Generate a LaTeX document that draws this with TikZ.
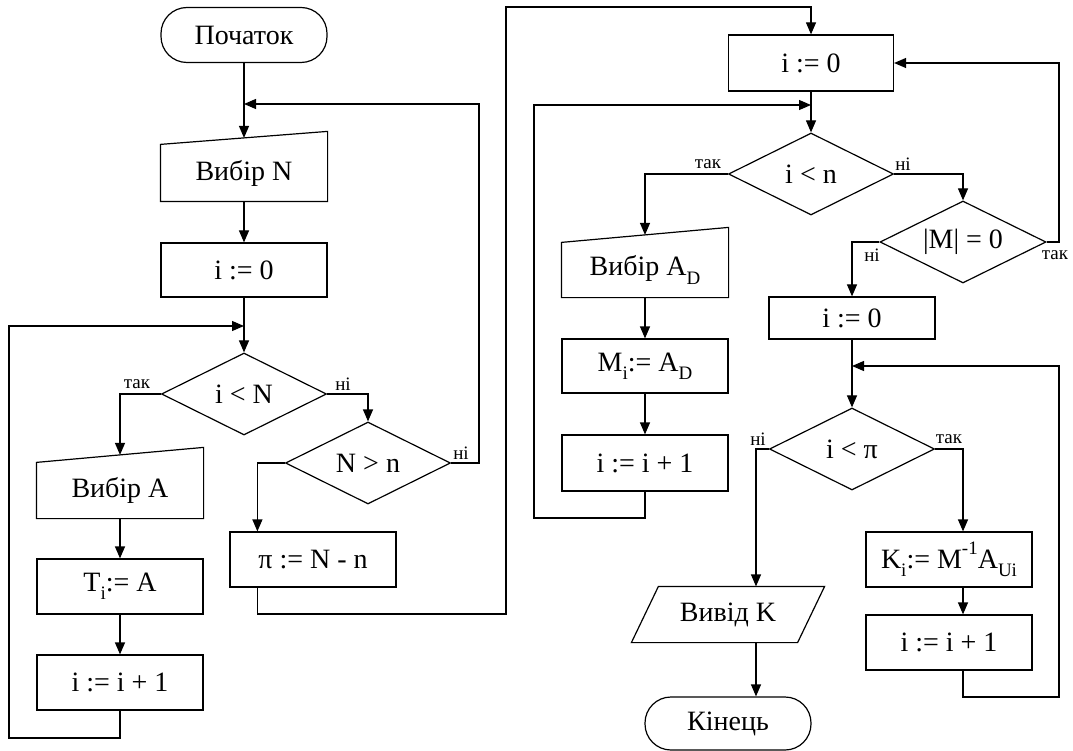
\documentclass[tikz,border=0pt]{standalone}
\usepackage{fontspec}
\setmainfont{Liberation Serif}
\usetikzlibrary{arrows.meta,shapes.geometric,calc}
\newcommand\lowidx[1]{\raisebox{-0.3em}{\fontsize{19}{19}\selectfont #1}}
\newcommand\upidx[1]{\raisebox{0.5em}{\fontsize{19}{19}\selectfont #1}}
\begin{document}
\begin{tikzpicture}[x=1pt,y=-1pt,line width=1.2pt,
  font=\fontsize{28}{30}\selectfont,
  proc/.style={draw,rectangle,inner sep=0pt,minimum width=166pt,minimum height=55pt},
  term/.style={draw,rectangle,rounded corners=26pt,inner sep=0pt,minimum width=166pt,minimum height=55pt},
  dec/.style={draw,diamond,aspect=2,inner sep=0pt,minimum width=165pt,minimum height=82pt},
  txtbox/.style={rectangle,inner sep=0pt,minimum width=166pt,minimum height=55pt},
  lbl/.style={font=\fontsize{19}{20}\selectfont,inner sep=0pt},
  arr/.style={-{Triangle[length=12pt,width=10pt]}}]
\useasboundingbox (0,0) rectangle (1073,751);

% ---- left part ----
\node[term] (start) at (244,35) {Початок};
\node[txtbox,minimum height=56pt] (vibN) at (244,173) {Вибір N};
\draw (vibN.south west) -- (vibN.north west) -- ([yshift=13pt]vibN.north east) -- (vibN.south east) -- cycle;
\coordinate (vibNtop) at ([yshift=6.5pt]vibN.north);
\node[proc,minimum height=54pt] (i0a) at (244,270) {i := 0};
\coordinate (j2) at (244,326);
\node[dec] (d1) at (244,394) {i < N};
\node[txtbox] (vibA) at (120,490.5) {Вибір A};
\draw (vibA.south west) -- (vibA.north west) -- ([yshift=15pt]vibA.north east) -- (vibA.south east) -- cycle;
\coordinate (vibAtop) at ([yshift=7.5pt]vibA.north);
\node[proc] (Ti) at (120,586.5) {T\lowidx{i}:= A};
\node[proc] (inc1) at (120,682.5) {i := i + 1};
\coordinate (lp1) at (9,738);
\node[dec] (d2) at (368,463) {N > n};
\coordinate (r1) at (479,104);
\coordinate (j1) at (244,104);
\node[proc] (pi) at (313,559.5) {π := N - n};
\coordinate (piTop) at ($(pi.north west)+(28,0)$);
\coordinate (piBot) at ($(pi.south west)+(28,0)$);
\coordinate (c1) at (506,614);
\coordinate (c2) at (811,7);

% ---- right part ----
\node[proc,minimum width=165pt,minimum height=56pt] (i0b) at (811,63) {i := 0};
\coordinate (j3) at (811,105);
\coordinate (lp2) at (534,518);
\node[dec] (d3) at (811,174) {i < n};
\node[txtbox,minimum height=54pt] (vibAD) at (645,270) {Вибір A\lowidx{D}};
\draw (vibAD.south west) -- (vibAD.north west) -- ([yshift=15pt]vibAD.north east) -- (vibAD.south east) -- cycle;
\coordinate (vibADtop) at ([yshift=7.5pt]vibAD.north);
\node[proc,minimum height=54pt] (Mi) at (645,366) {M\lowidx{i}:= A\lowidx{D}};
\node[proc,minimum height=56pt] (inc2) at (645,463) {i := i + 1};
\node[dec,minimum width=166pt] (d4) at (963,242) {|M| = 0};
\coordinate (r2) at (1059,63);
\node[proc,minimum height=42pt] (i0c) at (852,318) {i := 0};
\coordinate (j4) at (852,366);
\node[dec] (d5) at (852,449) {i < π};
\node[txtbox,minimum width=165pt] (vivK) at (728,614.5) {Вивід K};
\draw ([xshift=-13.5pt]vivK.south west) -- ([xshift=13.5pt]vivK.north west) -- ([xshift=13.5pt]vivK.north east) -- ([xshift=-13.5pt]vivK.south east) -- cycle;
\coordinate (vkTop) at ($(vivK.north)+(28,0)$);
\coordinate (vkBot) at ($(vivK.south)+(28,0)$);
\node[term,minimum height=53pt] (end) at (728,723.5) {Кінець};
\node[proc] (Ki) at (949,559.5) {K\lowidx{i}:= M\upidx{-1}A\lowidx{Ui}};
\coordinate (kiTop) at ($(Ki.north)+(14,0)$);
\coordinate (kiBot) at ($(Ki.south)+(14,0)$);
\node[proc] (inc3) at (949,642.5) {i := i + 1};
\coordinate (inc3Top) at ($(inc3.north)+(14,0)$);
\coordinate (inc3Bot) at ($(inc3.south)+(14,0)$);
\coordinate (lp3) at (1059,697);

% ---- connectors left ----
\draw[arr] (start) -- (vibNtop);
\draw[arr] (vibN) -- (i0a);
\draw[arr] (i0a) -- (d1);
\draw[arr] (d1.west) -| (vibAtop);
\draw[arr] (vibA) -- (Ti);
\draw[arr] (Ti) -- (inc1);
\draw[arr] (inc1.south) |- (lp1) |- (j2);
\draw[arr] (d1.east) -| (d2.north);
\draw[arr] (d2.east) -| (r1) -- (j1);
\draw[arr] (d2.west) -| (piTop);
\draw[arr] (piBot) |- (c1) |- (c2) -- (i0b.north);

% ---- connectors right ----
\draw[arr] (i0b) -- (d3);
\draw[arr] (d3.west) -| (vibADtop);
\draw[arr] (vibAD) -- (Mi);
\draw[arr] (Mi) -- (inc2);
\draw[arr] (inc2.south) |- (lp2) |- (j3);
\draw[arr] (d3.east) -| (d4.north);
\draw[arr] (d4.east) -| (r2) -- (i0b.east);
\draw[arr] (d4.west) -| (i0c.north);
\draw[arr] (i0c) -- (d5);
\draw[arr] (d5.west) -| (vkTop);
\draw[arr] (vkBot) -- (vkBot |- end.north);
\draw[arr] (d5.east) -| (kiTop);
\draw[arr] (kiBot) -- (inc3Top);
\draw[arr] (inc3Bot) |- (lp3) |- (j4);

% ---- labels ----
\node[lbl] (l1) at (137,384) {так};
\node[lbl] (l2) at (343,384) {ні};
\node[lbl] (l3) at (461,453) {ні};
\node[lbl] (l4) at (708,164) {так};
\node[lbl] (l5) at (903,164) {ні};
\node[lbl] (l6) at (872,255) {ні};
\node[lbl] (l7) at (1055,255) {так};
\node[lbl] (l8) at (758,439) {ні};
\node[lbl] (l9) at (949,439) {так};
\end{tikzpicture}
\end{document}
